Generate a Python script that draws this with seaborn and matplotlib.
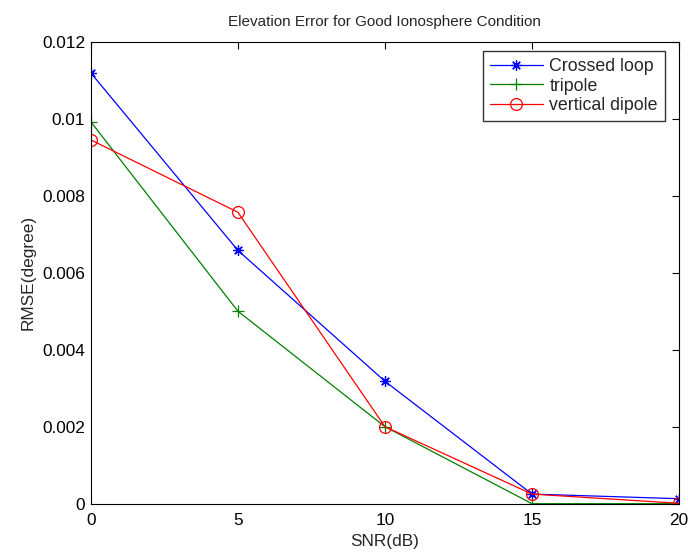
import matplotlib
matplotlib.use("Agg")
import matplotlib.pyplot as plt
import seaborn as sns
import pandas as pd
from matplotlib.ticker import FuncFormatter

snr = [0, 5, 10, 15, 20]
crossed_loop = [0.01119, 0.00658, 0.00318, 0.00025, 0.00013]
tripole = [0.00992, 0.00500, 0.00200, 0.00000, 0.00000]
vertical_dipole = [0.00945, 0.00757, 0.00200, 0.00025, 0.00001]
series_names = ["Crossed loop", "tripole", "vertical dipole"]

rows = []
for name, vals in zip(series_names, [crossed_loop, tripole, vertical_dipole]):
    for x, y in zip(snr, vals):
        rows.append({"SNR": x, "RMSE": y, "series": name})
df = pd.DataFrame(rows)

sns.set_style("white")
plt.rcParams["font.family"] = ["Liberation Sans", "DejaVu Sans"]

fig = plt.figure(figsize=(6.88, 5.52), dpi=100)
ax = fig.add_axes([0.132, 0.0875, 0.855, 0.837])

colors = {"Crossed loop": "#0000ff", "tripole": "#008000", "vertical dipole": "#ff0000"}
markers = {"Crossed loop": (8, 2, 0), "tripole": "+", "vertical dipole": "o"}
msizes = {"Crossed loop": 7.5, "tripole": 8.5, "vertical dipole": 8.5}

for name in series_names:
    sub = df[df["series"] == name]
    sns.lineplot(data=sub, x="SNR", y="RMSE", ax=ax, color=colors[name], lw=0.9,
                 marker=markers[name], markersize=msizes[name],
                 markerfacecolor="none", markeredgecolor=colors[name], markeredgewidth=0.9,
                 label=name, estimator=None, sort=False)

ax.set_xlim(0, 20)
ax.set_ylim(0, 0.012)
ax.set_xticks([0, 5, 10, 15, 20])
ax.set_yticks([0, 0.002, 0.004, 0.006, 0.008, 0.01, 0.012])
ax.yaxis.set_major_formatter(FuncFormatter(lambda v, p: "0" if abs(v) < 1e-12 else ("%.3f" % v).rstrip("0")))
ax.tick_params(direction="in", length=5, width=0.8, top=True, right=True, labelsize=12.4, colors="black")
ax.tick_params(axis="y", pad=4)
ax.tick_params(axis="x", pad=6.5)
for s in ax.spines.values():
    s.set_visible(True)
    s.set_color("black")
    s.set_linewidth(0.8)

ax.set_xlabel("SNR(dB)", fontsize=12.4, labelpad=4.5)
ax.set_ylabel("RMSE(degree)", fontsize=12.4, labelpad=5)
ax.set_title("Elevation Error for Good Ionosphere Condition", fontsize=11, pad=11)

leg = ax.legend(loc="upper right", bbox_to_anchor=(0.976, 0.980), fontsize=12.8, frameon=True,
                fancybox=False, edgecolor="black", borderaxespad=0, handlelength=3.0,
                labelspacing=0.15, borderpad=0.4, handletextpad=0.35)
leg.get_frame().set_linewidth(1.0)

fig.savefig("out.png", dpi=100, facecolor="white")
